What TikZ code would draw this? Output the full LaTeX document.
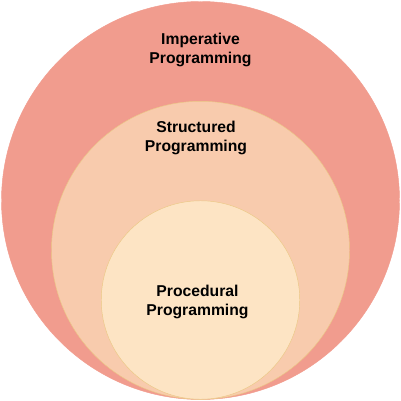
\documentclass[tikz,border=0pt]{standalone}
\usepackage{fontspec}
\setmainfont{Liberation Sans}
\definecolor{outerfill}{HTML}{F19C8E}
\definecolor{midfill}{HTML}{F8CBAD}
\definecolor{innerfill}{HTML}{FDE4C4}
\definecolor{ringline}{HTML}{EBC885}
\tikzset{
  ring/.style={circle, inner sep=0pt, line width=0.45pt},
  label/.style={font=\fontsize{15.7}{19}\selectfont\bfseries, align=center, inner sep=0pt, text=black}
}
\begin{document}
\begin{tikzpicture}[x=1pt,y=-1pt]
\useasboundingbox (0,0) rectangle (401,401);
\node[ring, fill=outerfill, draw=outerfill, minimum size=398pt] (outer) at (200.5,200.5) {};
\node[ring, fill=midfill, draw=ringline, minimum size=298pt] (middle) at (200.5,250.3) {};
\node[ring, fill=innerfill, draw=ringline, minimum size=198.5pt] (inner) at (200.5,300) {};
\node[label] (imp) at (200.5,49.5) {Imperative\\Programming};
\node[label] (str) at (196,137.5) {Structured\\Programming};
\node[label] (proc) at (197.5,301.5) {Procedural\\Programming};
\end{tikzpicture}
\end{document}
